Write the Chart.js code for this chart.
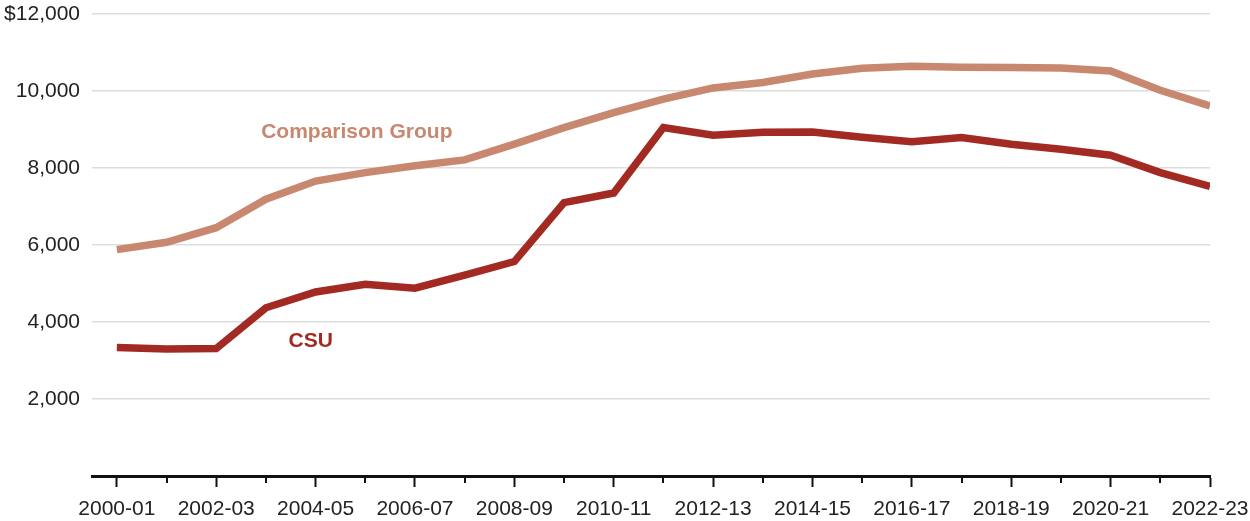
<!DOCTYPE html>
<html>
<head>
<meta charset="utf-8">
<script src="https://cdn.jsdelivr.net/npm/chart.js@4/dist/chart.umd.min.js"></script>
<style>
  html, body { margin: 0; padding: 0; background: #fff; }
  #wrap { width: 1250px; height: 521px; }
</style>
</head>
<body>
<div id="wrap"><canvas id="grafico"></canvas></div>
<script>
// Dados
const categories = ['2000-01','2001-02','2002-03','2003-04','2004-05','2005-06','2006-07','2007-08',
  '2008-09','2009-10','2010-11','2011-12','2012-13','2013-14','2014-15','2015-16','2016-17',
  '2017-18','2018-19','2019-20','2020-21','2021-22','2022-23'];
const comparisonGroup = [5880, 6070, 6450, 7190, 7660, 7880, 8060, 8210, 8620, 9050, 9440, 9790,
  10080, 10220, 10440, 10590, 10640, 10620, 10610, 10600, 10520, 10020, 9610];
const csu = [3340, 3300, 3310, 4370, 4780, 4980, 4880, 5220, 5570, 7100, 7350, 9050,
  8850, 8930, 8935, 8800, 8680, 8790, 8615, 8485, 8330, 7880, 7520];
const yTickLabels = ['', '2,000', '4,000', '6,000', '8,000', '10,000', '$12,000'];

// Rótulos das séries (posição em coordenadas dos dados)
const seriesLabels = [
  { text: 'Comparison Group', x: 4.83, y: 8790, color: '#C8876F' },
  { text: 'CSU', x: 3.9, y: 3340, color: '#A32A22' }
];

const fonte = '"Liberation Sans", Arial, Helvetica, sans-serif';

const labelsPlugin = {
  id: 'labelsPlugin',
  afterDraw(chart) {
    const ctx = chart.ctx;
    const x = chart.scales.x, y = chart.scales.y;
    ctx.save();
    // marcas menores do eixo x
    ctx.strokeStyle = '#111';
    ctx.lineWidth = 2;
    categories.forEach((c, i) => {
      if (i % 2 === 1) {
        const px = Math.round(x.getPixelForValue(i));
        ctx.beginPath();
        ctx.moveTo(px, chart.chartArea.bottom);
        ctx.lineTo(px, chart.chartArea.bottom + 7);
        ctx.stroke();
      }
    });
    // nomes das séries
    ctx.font = 'bold 21px ' + fonte;
    ctx.textAlign = 'center';
    ctx.textBaseline = 'alphabetic';
    seriesLabels.forEach(l => {
      ctx.fillStyle = l.color;
      ctx.fillText(l.text, x.getPixelForValue(l.x), y.getPixelForValue(l.y));
    });
    ctx.restore();
  }
};

const dados = {
  datasets: [
    {
      label: 'Comparison Group',
      data: categories.map((c, i) => ({ x: i, y: comparisonGroup[i] })),
      borderColor: '#C8876F',
      borderWidth: 7.5,
      pointRadius: 0,
      tension: 0
    },
    {
      label: 'CSU',
      data: categories.map((c, i) => ({ x: i, y: csu[i] })),
      borderColor: '#A32A22',
      borderWidth: 7.5,
      pointRadius: 0,
      tension: 0
    }
  ]
};

const configuracao = {
  type: 'line',
  data: dados,
  plugins: [labelsPlugin],
  options: {
    responsive: false,
    animation: false,
    events: [],
    layout: { padding: { top: 14, right: 40, bottom: 0, left: 0 } },
    plugins: { legend: { display: false }, tooltip: { enabled: false } },
    scales: {
      x: {
        type: 'linear',
        min: -0.5,
        max: categories.length - 1,
        afterBuildTicks: scale => { scale.ticks = categories.map((c, i) => ({ value: i })); },
        afterFit: scale => {
          scale.height = 45;
          scale.paddingLeft = 0;
          scale.paddingRight = 0;
        },
        grid: {
          drawOnChartArea: false,
          drawTicks: true,
          tickLength: 11,
          tickWidth: 2,
          tickColor: ctx => (ctx.index % 2 === 0 ? '#111' : 'rgba(0,0,0,0)')
        },
        border: { display: true, color: '#111', width: 3 },
        ticks: {
          autoSkip: false,
          maxRotation: 0,
          padding: 10,
          color: '#222',
          font: { family: fonte, size: 21 },
          callback: (v, i) => (i % 2 === 0 ? categories[i] : '')
        }
      },
      y: {
        min: 0,
        max: 12000,
        afterFit: scale => {
          scale.width = 92;
          scale.paddingTop = 0;
          scale.paddingBottom = 0;
        },
        grid: { color: '#dddddd', lineWidth: 1.5, drawTicks: false },
        border: { display: false },
        ticks: {
          stepSize: 2000,
          padding: 12,
          color: '#222',
          font: { family: fonte, size: 21 },
          callback: (v, i) => yTickLabels[i]
        }
      }
    }
  }
};

const canvas = document.getElementById('grafico');
canvas.width = 1250;
canvas.height = 521;
new Chart(canvas.getContext('2d'), configuracao);
</script>
</body>
</html>
